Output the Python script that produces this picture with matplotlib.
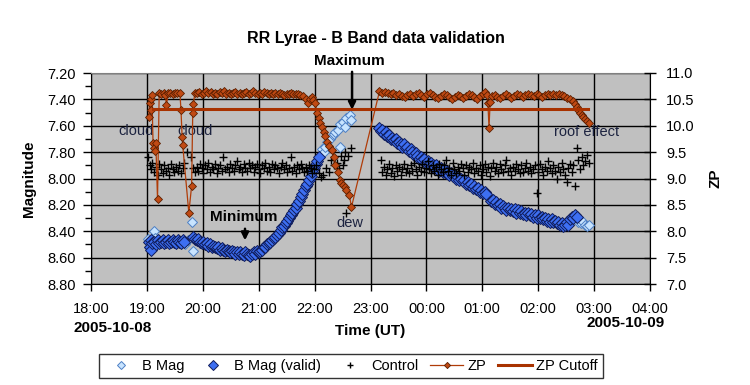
import matplotlib
matplotlib.use('Agg')
import matplotlib.pyplot as plt
from matplotlib.ticker import MultipleLocator, FormatStrFormatter, FuncFormatter

plt.rcParams['font.family'] = ['Liberation Sans', 'DejaVu Sans']

# Horas UT contadas desde las 00:00 del 2005-10-08 (pasada la medianoche: 24 + hora)

# B Mag valida (ZP por encima del corte)
valid_t = [19.03, 19.05, 19.07, 19.08, 19.10, 19.13, 19.16, 19.19, 19.22, 19.25, 19.28, 19.31, 19.34,
           19.37, 19.40, 19.43, 19.46, 19.49, 19.52, 19.55, 19.58, 19.61, 19.64, 19.67,
           19.83, 19.86, 19.89, 19.92, 19.95, 19.98, 20.01, 20.04, 20.07, 20.10, 20.13, 20.16, 20.19,
           20.22, 20.25, 20.28, 20.31, 20.34, 20.37, 20.40, 20.43, 20.46, 20.49, 20.52, 20.55, 20.58,
           20.61, 20.64, 20.67, 20.70, 20.73, 20.76, 20.79, 20.82, 20.85, 20.88, 20.91, 20.94, 20.97,
           21.00, 21.03, 21.06, 21.09, 21.12, 21.15, 21.18, 21.21, 21.24, 21.27, 21.30, 21.33, 21.36,
           21.39, 21.42, 21.45, 21.48, 21.51, 21.54, 21.57, 21.60, 21.63, 21.66, 21.69, 21.72, 21.75,
           21.78, 21.81, 21.84, 21.87, 21.90, 21.93, 21.96, 21.99, 22.02, 22.05, 22.08,
           23.15, 23.18, 23.21, 23.24, 23.27, 23.30, 23.33, 23.36, 23.39, 23.42, 23.45, 23.48, 23.51,
           23.54, 23.57, 23.60, 23.63, 23.66, 23.69, 23.72, 23.75, 23.78, 23.81, 23.84, 23.87, 23.90,
           23.93, 23.96, 23.99, 24.02, 24.05, 24.08, 24.11, 24.14, 24.17, 24.20, 24.23, 24.26, 24.29,
           24.32, 24.35, 24.38, 24.41, 24.44, 24.47, 24.50, 24.53, 24.56, 24.59, 24.62, 24.65, 24.68,
           24.71, 24.74, 24.77, 24.80, 24.83, 24.86, 24.89, 24.92, 24.95, 24.98, 25.01, 25.04, 25.07,
           25.16, 25.19, 25.22, 25.25, 25.28, 25.31, 25.34, 25.37, 25.40, 25.43, 25.46, 25.49, 25.52,
           25.55, 25.58, 25.61, 25.64, 25.67, 25.70, 25.73, 25.76, 25.79, 25.82, 25.85, 25.88, 25.91,
           25.94, 25.97, 26.00, 26.03, 26.06, 26.09, 26.12, 26.15, 26.18, 26.21, 26.24, 26.27, 26.30,
           26.33, 26.36, 26.39, 26.42, 26.45, 26.48, 26.51, 26.54, 26.57, 26.60, 26.63, 26.66, 26.69]
valid_mag = [8.48, 8.52, 8.54, 8.47, 8.49, 8.48, 8.50, 8.47, 8.49, 8.48, 8.47, 8.49, 8.48,
             8.47, 8.49, 8.48, 8.47, 8.48, 8.49, 8.47, 8.48, 8.49, 8.47, 8.48,
             8.44, 8.46, 8.47, 8.46, 8.48, 8.49, 8.48, 8.50, 8.49, 8.51, 8.50, 8.52, 8.51,
             8.52, 8.53, 8.52, 8.54, 8.53, 8.54, 8.55, 8.54, 8.55, 8.56, 8.55, 8.56, 8.57,
             8.56, 8.57, 8.56, 8.57, 8.58, 8.56, 8.57, 8.58, 8.59, 8.57, 8.56, 8.57, 8.55,
             8.56, 8.55, 8.54, 8.52, 8.52, 8.50, 8.49, 8.48, 8.47, 8.45, 8.44, 8.43, 8.41,
             8.39, 8.37, 8.36, 8.34, 8.32, 8.30, 8.28, 8.26, 8.24, 8.22, 8.19, 8.17, 8.14,
             8.12, 8.09, 8.06, 8.04, 8.01, 7.98, 7.95, 7.92, 7.89, 7.87, 7.84,
             7.62, 7.64, 7.63, 7.66, 7.65, 7.68, 7.67, 7.70, 7.69, 7.71, 7.70, 7.73, 7.72,
             7.74, 7.76, 7.74, 7.77, 7.76, 7.79, 7.78, 7.80, 7.82, 7.81, 7.83, 7.85, 7.84,
             7.86, 7.85, 7.88, 7.87, 7.89, 7.88, 7.90, 7.92, 7.90, 7.92, 7.94, 7.92, 7.95,
             7.93, 7.96, 7.95, 7.97, 7.96, 7.98, 7.97, 8.00, 7.99, 8.01, 8.00, 8.02, 8.01,
             8.04, 8.03, 8.05, 8.04, 8.07, 8.06, 8.08, 8.07, 8.10, 8.09, 8.11, 8.10, 8.12,
             8.17, 8.16, 8.19, 8.18, 8.20, 8.19, 8.22, 8.21, 8.22, 8.24, 8.22, 8.24, 8.23,
             8.25, 8.23, 8.26, 8.24, 8.26, 8.25, 8.27, 8.26, 8.28, 8.26, 8.28, 8.27, 8.29,
             8.28, 8.30, 8.28, 8.30, 8.29, 8.31, 8.30, 8.32, 8.31, 8.33, 8.31, 8.33, 8.32,
             8.34, 8.33, 8.35, 8.34, 8.36, 8.35, 8.33, 8.35, 8.31, 8.29, 8.30, 8.28, 8.29]

# B Mag rechazada (nubes, maximo con rocio, efecto del techo)
reject_t = [19.02, 19.04, 19.12, 19.15, 19.18, 19.68, 19.74, 19.80, 19.82,
            22.13, 22.16, 22.19, 22.22, 22.28, 22.33, 22.35, 22.36, 22.42, 22.45, 22.45,
            22.51, 22.54, 22.57, 22.63, 22.66, 25.12,
            26.72, 26.76, 26.80, 26.84, 26.88, 26.90]
reject_mag = [8.46, 8.52, 8.40, 8.45, 8.50, 8.50, 8.47, 8.33, 8.55,
              7.78, 7.80, 7.76, 7.72, 7.70, 7.67, 7.66, 7.65, 7.63, 7.59, 7.76,
              7.57, 7.61, 7.54, 7.52, 7.56, 8.13,
              8.33, 8.34, 8.33, 8.35, 8.36, 8.35]

# estrella de control
control_t = [19.02, 19.05, 19.07, 19.10, 19.13, 19.16, 19.19, 19.22, 19.25, 19.28, 19.31, 19.34, 19.37,
             19.40, 19.43, 19.46, 19.49, 19.52, 19.55, 19.58, 19.61, 19.64, 19.67, 19.72, 19.78, 19.83,
             19.86, 19.89, 19.92, 19.95, 19.98, 20.01, 20.04, 20.07, 20.10, 20.13, 20.16, 20.19, 20.22,
             20.25, 20.28, 20.31, 20.34, 20.37, 20.40, 20.43, 20.46, 20.49, 20.52, 20.55, 20.58, 20.61,
             20.64, 20.67, 20.70, 20.73, 20.76, 20.79, 20.82, 20.85, 20.88, 20.91, 20.94, 20.97, 21.00,
             21.03, 21.06, 21.09, 21.12, 21.15, 21.18, 21.21, 21.24, 21.27, 21.30, 21.33, 21.36, 21.39,
             21.42, 21.45, 21.48, 21.51, 21.54, 21.57, 21.60, 21.63, 21.66, 21.69, 21.72, 21.75, 21.78,
             21.81, 21.84, 21.87, 21.90, 21.93, 21.96, 21.99, 22.02,
             22.08, 22.12, 22.15, 22.20, 22.25, 22.30, 22.35, 22.40, 22.43, 22.47, 22.50, 22.52, 22.55,
             22.57, 22.60, 22.66,
             23.18, 23.21, 23.24, 23.27, 23.30, 23.33, 23.36, 23.39, 23.42, 23.45, 23.48, 23.51, 23.54,
             23.57, 23.60, 23.63, 23.66, 23.69, 23.72, 23.75, 23.78, 23.81, 23.84, 23.87, 23.90, 23.93,
             23.96, 23.99, 24.02, 24.05, 24.08, 24.11, 24.14, 24.17, 24.20, 24.23, 24.26, 24.29, 24.32,
             24.35, 24.38, 24.41, 24.44, 24.47, 24.50, 24.53, 24.56, 24.59, 24.62, 24.65, 24.68, 24.71,
             24.74, 24.77, 24.80, 24.83, 24.86, 24.89, 24.92, 24.95, 24.98, 25.01, 25.04, 25.07, 25.10,
             25.13, 25.16, 25.19, 25.22, 25.25, 25.28, 25.31, 25.34, 25.37, 25.40, 25.43, 25.46, 25.49,
             25.52, 25.55, 25.58, 25.61, 25.64, 25.67, 25.70, 25.73, 25.76, 25.79, 25.82, 25.85, 25.88,
             25.91, 25.94, 25.97, 26.00, 26.03, 26.06, 26.09, 26.12, 26.15, 26.18, 26.21, 26.24, 26.27,
             26.30, 26.33, 26.36, 26.39, 26.42, 26.45, 26.48, 26.51, 26.54, 26.57, 26.60, 26.63, 26.66,
             26.69, 26.72, 26.75, 26.78, 26.81, 26.84, 26.87, 26.90]
control_mag = [7.84, 7.90, 7.93, 7.88, 7.95, 7.91, 7.97, 7.89, 7.93, 7.96, 7.90, 7.94, 7.92,
               7.97, 7.89, 7.93, 7.95, 7.91, 7.94, 7.90, 7.96, 7.92, 7.88, 7.80, 7.84, 7.92,
               7.95, 7.91, 7.94, 7.89, 7.92, 7.96, 7.90, 7.93, 7.88, 7.95, 7.91, 7.93, 7.89,
               7.96, 7.92, 7.90, 7.94, 7.84, 7.93, 7.91, 7.95, 7.89, 7.92, 7.94, 7.90, 7.87,
               7.93, 7.91, 7.95, 7.89, 7.92, 7.94, 7.88, 7.92, 7.90, 7.95, 7.91, 7.89, 7.93,
               7.96, 7.90, 7.92, 7.88, 7.94, 7.91, 7.95, 7.89, 7.93, 7.90, 7.92, 7.96, 7.91,
               7.88, 7.93, 7.90, 7.95, 7.92, 7.84, 7.94, 7.91, 7.96, 7.90, 7.93, 7.89, 7.92,
               7.95, 7.91, 7.94, 7.90, 7.92, 7.96, 7.93, 7.90,
               7.96, 7.99, 7.97, 7.92, 7.95, 7.86, 7.90, 7.88, 7.92, 7.83, 7.90, 7.86, 7.80,
               8.26, 7.83, 7.77,
               7.86, 7.95, 7.91, 7.97, 7.93, 7.89, 7.96, 7.92, 7.98, 7.90, 7.94, 7.91, 7.97,
               7.93, 7.89, 7.95, 7.92, 7.96, 7.90, 7.94, 7.88, 7.93, 7.97, 7.91, 7.94, 7.89,
               7.95, 7.92, 7.87, 7.93, 7.96, 7.90, 7.94, 7.91, 7.97, 7.89, 7.93, 7.95, 7.90,
               7.86, 7.94, 7.92, 7.97, 7.88, 7.93, 7.96, 7.91, 7.94, 7.89, 7.92, 7.97, 7.90,
               7.95, 7.91, 7.93, 7.88, 7.96, 7.92, 7.94, 7.90, 7.97, 7.93, 7.89, 7.95, 7.91,
               7.98, 7.92, 7.88, 7.94, 7.91, 7.96, 7.89, 7.93, 7.95, 7.90, 7.86, 7.94, 7.92,
               7.97, 7.91, 7.94, 7.89, 7.93, 7.96, 7.90, 7.95, 7.92, 7.88, 7.94, 7.91, 7.96,
               7.93, 7.90, 8.11, 7.95, 7.89, 7.93, 7.97, 7.91, 7.94, 7.87, 7.92, 7.96, 7.90,
               7.94, 8.00, 7.91, 7.95, 7.88, 7.93, 7.97, 8.03, 7.92, 7.89, 7.95, 7.90, 8.06,
               7.77, 7.86, 7.93, 7.84, 7.90, 7.87, 7.82, 7.88]

# punto cero (ZP)
zp_t = [19.03, 19.05, 19.07, 19.08, 19.09, 19.11, 19.13, 19.14, 19.16, 19.19, 19.22, 19.26, 19.30,
        19.33, 19.35, 19.38, 19.42, 19.46, 19.50, 19.54, 19.59, 19.61, 19.63, 19.64, 19.75, 19.80,
        19.82, 19.83, 19.86, 19.90, 19.94, 19.98, 20.02, 20.06, 20.10, 20.14, 20.18, 20.22, 20.26,
        20.30, 20.34, 20.38, 20.42, 20.46, 20.50, 20.54, 20.58, 20.62, 20.66, 20.70, 20.74, 20.78,
        20.82, 20.86, 20.90, 20.94, 20.98, 21.02, 21.06, 21.10, 21.14, 21.18, 21.22, 21.26, 21.30,
        21.34, 21.38, 21.42, 21.46, 21.50, 21.54, 21.58, 21.62, 21.66, 21.70, 21.74, 21.79, 21.84,
        21.88, 21.92, 21.95, 21.98, 22.01, 22.04, 22.07, 22.10, 22.13, 22.16, 22.19, 22.22, 22.26,
        22.31, 22.34, 22.36, 22.41, 22.45, 22.48, 22.51, 22.54, 22.57, 22.62, 22.66,
        23.16, 23.21, 23.26, 23.31, 23.36, 23.41, 23.46, 23.51, 23.56, 23.61, 23.66, 23.71, 23.76,
        23.81, 23.86, 23.91, 23.96, 24.01, 24.06, 24.11, 24.16, 24.21, 24.26, 24.31, 24.36, 24.41,
        24.46, 24.51, 24.56, 24.61, 24.66, 24.71, 24.76, 24.81, 24.86, 24.91, 24.96, 25.01, 25.05,
        25.08, 25.10, 25.12, 25.14, 25.17, 25.22, 25.27, 25.32, 25.37, 25.42, 25.47, 25.52, 25.57,
        25.62, 25.67, 25.72, 25.77, 25.82, 25.87, 25.92, 25.97, 26.02, 26.07, 26.12, 26.17, 26.22,
        26.27, 26.32, 26.37, 26.42, 26.47, 26.52, 26.57, 26.62, 26.66, 26.69, 26.72, 26.75, 26.78,
        26.81, 26.84, 26.87, 26.90]
zp = [10.17, 10.43, 10.50, 10.29, 10.58, 9.67, 9.58, 9.52, 9.67, 8.61, 10.63, 10.60, 10.63,
      10.58, 10.39, 10.62, 10.63, 10.61, 10.63, 10.62, 10.63, 10.29, 9.79, 9.64, 8.35, 8.86,
      10.25, 10.41, 10.63, 10.62, 10.64, 10.61, 10.63, 10.65, 10.62, 10.64, 10.61, 10.63, 10.60,
      10.64, 10.62, 10.65, 10.61, 10.63, 10.60, 10.62, 10.64, 10.61, 10.63, 10.60, 10.62, 10.64,
      10.61, 10.63, 10.65, 10.62, 10.60, 10.63, 10.61, 10.64, 10.62, 10.60, 10.63, 10.61, 10.62,
      10.60, 10.62, 10.61, 10.59, 10.61, 10.60, 10.62, 10.61, 10.60, 10.60, 10.58, 10.57, 10.50,
      10.44, 10.50, 10.55, 10.49, 10.43, 10.24, 10.14, 10.05, 9.97, 9.89, 9.80, 9.70, 9.62,
      9.54, 9.40, 9.26, 9.13, 8.97, 8.92, 8.88, 8.83, 8.78, 8.69, 8.46,
      10.65, 10.63, 10.64, 10.62, 10.60, 10.62, 10.59, 10.61, 10.56, 10.54, 10.58, 10.60, 10.57,
      10.60, 10.62, 10.58, 10.55, 10.60, 10.62, 10.59, 10.55, 10.52, 10.57, 10.61, 10.58, 10.54,
      10.50, 10.55, 10.59, 10.56, 10.52, 10.57, 10.61, 10.58, 10.54, 10.50, 10.56, 10.61, 10.64,
      10.58, 10.43, 9.96, 10.45, 10.56, 10.59, 10.55, 10.52, 10.57, 10.60, 10.56, 10.53, 10.57,
      10.60, 10.58, 10.55, 10.58, 10.61, 10.59, 10.56, 10.60, 10.58, 10.55, 10.58, 10.60, 10.59,
      10.60, 10.58, 10.60, 10.59, 10.56, 10.53, 10.50, 10.46, 10.41, 10.36, 10.30, 10.24, 10.20,
      10.16, 10.13, 10.09, 10.05]

# corte del ZP
cutoff_t = [19.11, 26.89]
cutoff_zp = [10.32, 10.32]

fig = plt.figure(figsize=(7.5, 3.85), dpi=100)
ax = fig.add_axes([91 / 750, 1 - 284 / 385, 559 / 750, 211 / 385])
ax.set_facecolor('#c0c0c0')
ax.set_axisbelow(True)

# todas las B Mag (las validas se dibujan encima)
ax.plot(reject_t + valid_t, reject_mag + valid_mag, linestyle='none', marker='D', markersize=5,
        markerfacecolor='#c8e4ff', markeredgecolor='#4d7fc4', markeredgewidth=0.7, label='B Mag')
ax.plot(valid_t, valid_mag, linestyle='none', marker='D', markersize=6.5,
        markerfacecolor='#3d6ff2', markeredgecolor='#101c5a', markeredgewidth=0.7, label='B Mag (valid)')
ax.plot(control_t, control_mag, linestyle='none', marker='+', markersize=6, markeredgewidth=1,
        color='black', label='Control')

ax.set_xlim(18, 28)
ax.set_ylim(8.8, 7.2)
ax.xaxis.set_major_locator(MultipleLocator(1))
ax.xaxis.set_major_formatter(FuncFormatter(lambda h, pos: '%02d:00' % (int(round(h)) % 24)))
ax.yaxis.set_major_locator(MultipleLocator(0.2))
ax.yaxis.set_minor_locator(MultipleLocator(0.1))
ax.yaxis.set_major_formatter(FormatStrFormatter('%.2f'))
ax.grid(True, which='major', color='black', linewidth=1)
ax.tick_params(axis='x', direction='out', length=5, width=1, pad=8, labelsize=10.5)
ax.tick_params(axis='y', which='major', direction='out', length=6, width=1, pad=5, labelsize=10.5)
ax.tick_params(axis='y', which='minor', direction='out', length=4, width=1)
ax.spines['top'].set_color('#808080')
ax.spines['right'].set_visible(False)

ax2 = ax.twinx()
l_zp, = ax2.plot(zp_t, zp, color='#b03c08', linewidth=0.9, marker='D', markersize=4.2,
                 markerfacecolor='#c04a14', markeredgecolor='#5a1e00', markeredgewidth=0.6, label='ZP')
l_cut, = ax2.plot(cutoff_t, cutoff_zp, color='#a83200', linewidth=2.2, label='ZP Cutoff')
ax2.set_ylim(7, 11)
ax2.yaxis.set_major_locator(MultipleLocator(0.5))
ax2.yaxis.set_major_formatter(FormatStrFormatter('%.1f'))
ax2.tick_params(axis='y', direction='inout', length=9, width=1, pad=7, labelsize=10.5)
for s in ['left', 'top', 'bottom']:
    ax2.spines[s].set_visible(False)
ax2.spines['right'].set_color('black')

ax.set_ylabel('Magnitude', fontsize=11, fontweight='bold', labelpad=8)
ax2.set_ylabel('ZP', fontsize=11, fontweight='bold', labelpad=10)
ax.set_xlabel('Time (UT)', fontsize=11, fontweight='bold', labelpad=6)
fig.text(376 / 750, 1 - 38 / 385, 'RR Lyrae - B Band data validation', ha='center', va='center',
         fontsize=11.5, fontweight='bold')
fig.text(113 / 750, 1 - 328 / 385, '2005-10-08', ha='center', va='center', fontsize=11, fontweight='bold')
fig.text(626 / 750, 1 - 323 / 385, '2005-10-09', ha='center', va='center', fontsize=11, fontweight='bold')

# anotaciones
note = '#1c2340'
ax.text(18.80, 7.64, 'cloud', ha='center', va='center', fontsize=10.5, color=note)
ax.text(19.87, 7.64, 'cloud', ha='center', va='center', fontsize=10.5, color=note)
ax.text(22.63, 8.335, 'dew', ha='center', va='center', fontsize=10.5, color=note)
ax.text(26.86, 7.65, 'roof effect', ha='center', va='center', fontsize=10.5, color=note)
ax.text(20.73, 8.29, 'Minimum', ha='center', va='center', fontsize=11, fontweight='bold')
ax.text(22.63, 7.11, 'Maximum', ha='center', va='center', fontsize=11, fontweight='bold', clip_on=False)
ax.annotate('', xy=(20.755, 8.49), xytext=(20.755, 8.36),
            arrowprops=dict(arrowstyle='-|>', lw=1.8, color='black', mutation_scale=11))
ax.annotate('', xy=(22.67, 7.50), xytext=(22.67, 7.17), annotation_clip=False,
            arrowprops=dict(arrowstyle='-|>', lw=1.8, color='black', mutation_scale=11))

h, l = ax.get_legend_handles_labels()
leg = fig.legend(h + [l_zp, l_cut], l + ['ZP', 'ZP Cutoff'], loc='center',
                 bbox_to_anchor=(351 / 750, 1 - 366 / 385), ncol=5, fontsize=10.5,
                 frameon=True, fancybox=False, edgecolor='black', handlelength=2.3,
                 handletextpad=0.3, columnspacing=0.8, borderpad=0.35, markerscale=0.75)
leg.get_frame().set_linewidth(1)

fig.savefig('out.png', dpi=100)
